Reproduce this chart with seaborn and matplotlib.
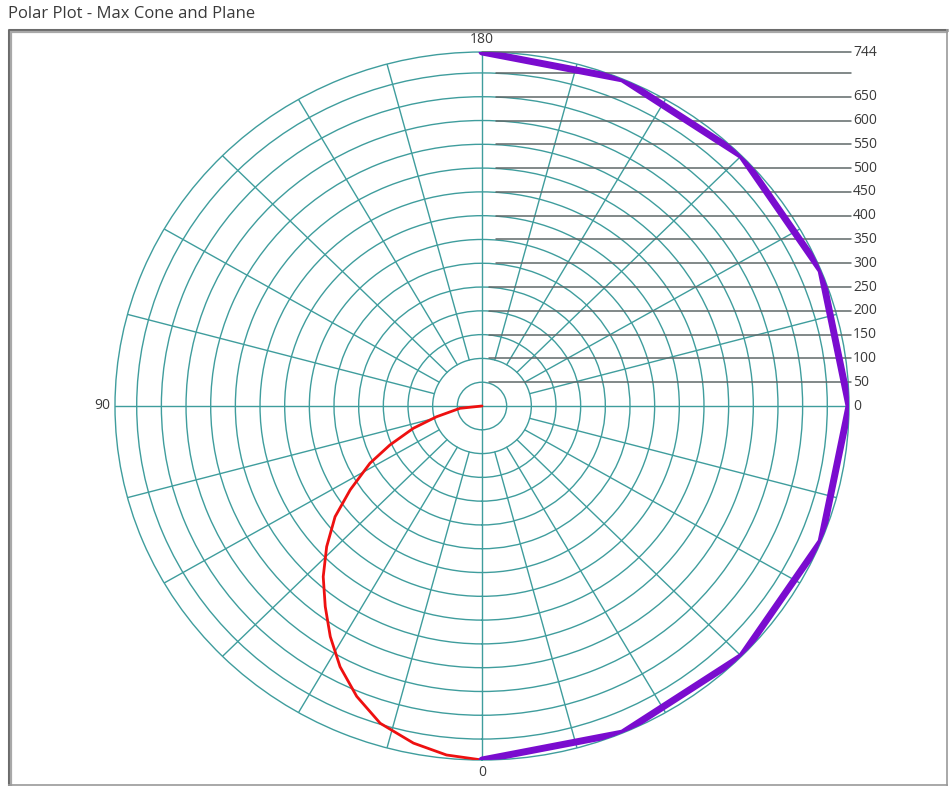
import numpy as np
import matplotlib
matplotlib.use("Agg")
import matplotlib.pyplot as plt
from matplotlib.lines import Line2D
import seaborn as sns

# ---- data -------------------------------------------------------------
# Max plane: constant radius, sampled every 22.5 deg over the right half
plane_theta_deg = [180, 202.5, 225, 247.5, 270, 292.5, 315, 337.5, 360]
plane_r = [744, 744, 744, 744, 744, 744, 744, 744, 744]

# Max cone: radius falls from 744 at 0 deg to the origin at 90 deg
cone_theta_deg = [0, 5.6, 11.1, 17.2, 22.6, 27.7, 32.4, 37.0, 41.9, 46.8,
                  52.0, 56.6, 62.1, 66.3, 71.4, 76.2, 83.8, 90]
cone_r = [744, 737, 722, 698, 661, 619, 574, 528, 482, 432,
          378, 320, 257, 204, 147, 95, 45, 0]

r_max = 744
ring_values = [50, 100, 150, 200, 250, 300, 350, 400, 450, 500, 550, 600, 650, 700]
scale_values = [0, 50, 100, 150, 200, 250, 300, 350, 400, 450, 500, 550, 600, 650, 744]
theta_tick_deg = [0, 90, 180]
theta_tick_labels = ["0", "90", "180"]

# ---- styling ------------------------------------------------------------
sns.set_style("white")
plt.rcParams["font.family"] = ["Open Sans", "DejaVu Sans"]

TEAL = "#3f9d9d"
GREY_LINE = "#5f6868"
TEXT = "#3a3a3a"
PURPLE = "#7a0ccf"
RED = "#ee1010"

W, H = 950, 786
fig = plt.figure(figsize=(W / 100, H / 100), dpi=100)

# plot area in pixels: centre and half extents of the (slightly wide) dial
cx, cy, hw, hh = 482, 406, 367, 354
rect = [(cx - hw) / W, (H - (cy + hh)) / H, 2 * hw / W, 2 * hh / H]

# cartesian helper sharing the dial's box, used for the right-hand radius scale
helper = fig.add_axes(rect, label="scale")
helper.set_xlim(-r_max, r_max)
helper.set_ylim(-r_max, r_max)
helper.axis("off")

ax = fig.add_axes(rect, projection="polar")
ax.set_aspect("auto")
ax.patch.set_alpha(0)
ax.set_theta_zero_location("S")
ax.set_theta_direction(-1)

# rings
ax.set_yticks(ring_values)
ax.set_yticklabels([])
ax.yaxis.grid(True, color=TEAL, linewidth=1.0)
ax.xaxis.grid(False)
ax.spines["polar"].set_color(TEAL)
ax.spines["polar"].set_linewidth(1.0)

# spokes every 15 deg starting at the second ring, main axes through centre
for a in range(0, 360, 15):
    start = 0 if a % 90 == 0 else 100
    ax.plot([np.deg2rad(a)] * 2, [start, r_max], color=TEAL, lw=1.0, zorder=2)

# horizontal scale lines with their values on the right
for v in ring_values + [r_max]:
    x0 = 0 if v == r_max else (28 if v >= 300 else 15)
    ax.plot([x0, 748], [v, v], transform=helper.transData, color=GREY_LINE,
            lw=1.1, clip_on=False, zorder=3)
for v in scale_values:
    ax.text(752, v, str(v), transform=helper.transData, ha="left", va="center",
            fontsize=10, color=TEXT, clip_on=False)

# curves
sns.lineplot(x=np.deg2rad(plane_theta_deg), y=plane_r, ax=ax, color=PURPLE,
             linewidth=5, sort=False, zorder=6, solid_capstyle="round",
             solid_joinstyle="round")
sns.lineplot(x=np.deg2rad(cone_theta_deg), y=cone_r, ax=ax, color=RED,
             linewidth=2.0, sort=False, zorder=5, solid_capstyle="round",
             solid_joinstyle="round")

ax.set_thetalim(0, 2 * np.pi)
ax.set_ylim(0, r_max)
ax.set_xticks(np.deg2rad(theta_tick_deg))
ax.set_xticklabels(theta_tick_labels)
ax.tick_params(axis="x", pad=-1.5, labelsize=10, colors=TEXT)
ax.set_xlabel("")
ax.set_ylabel("")

# window frame and caption
def frame_line(x0, y0, x1, y1, color, lw):
    fig.add_artist(Line2D([x0 / W, x1 / W], [1 - y0 / H, 1 - y1 / H],
                          transform=fig.transFigure, color=color, lw=lw,
                          solid_capstyle="butt"))

frame_line(8.5, 29, 8.5, 786, "#6b6b6b", 2.2)
frame_line(8, 29.5, 948, 29.5, "#6b6b6b", 2.2)
frame_line(11, 31, 11, 786, "#a8a8a8", 1.6)
frame_line(10, 32, 948, 32, "#a8a8a8", 1.6)
frame_line(946.5, 29, 946.5, 786, "#9a9a9a", 1.2)
frame_line(8, 784.5, 948, 784.5, "#9a9a9a", 1.2)

fig.text(8 / W, 1 - 14 / H, "Polar Plot - Max Cone and Plane", ha="left",
         va="center", fontsize=12, color=TEXT)

fig.savefig("out.png", dpi=100)
